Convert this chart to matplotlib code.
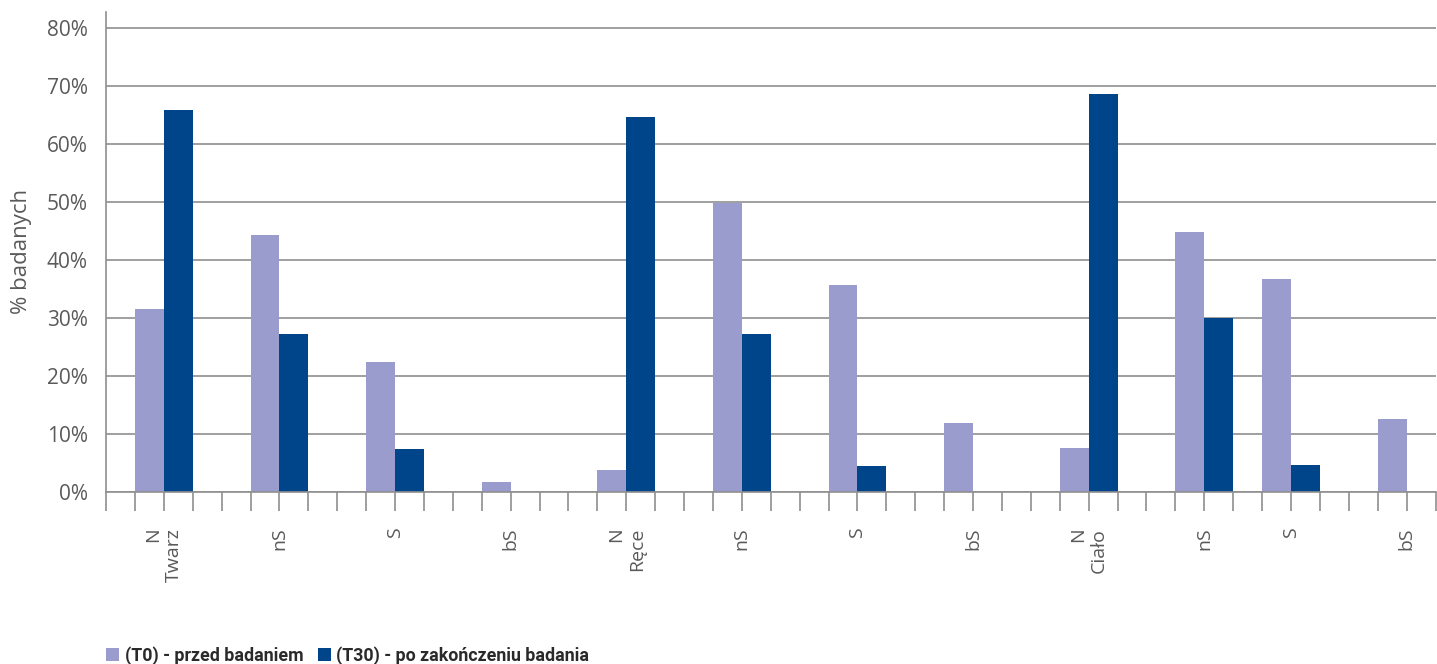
import numpy as np
import matplotlib
matplotlib.use("Agg")
import matplotlib.pyplot as plt
from matplotlib.patches import Patch
from matplotlib.ticker import PercentFormatter, MultipleLocator

# data (fraction of subjects)
category_labels = ["N\nTwarz", "nS", "S", "bS",
                   "N\nRęce", "nS", "S", "bS",
                   "N\nCiało", "nS", "S", "bS"]
values_t0 = [0.315, 0.443, 0.224, 0.017,
             0.037, 0.498, 0.357, 0.119,
             0.075, 0.448, 0.367, 0.125]
values_t30 = [0.659, 0.272, 0.074, 0.0,
              0.646, 0.272, 0.044, 0.0,
              0.686, 0.299, 0.046, 0.0]
legend_labels = ["(T0) - przed badaniem", "(T30) - po zakończeniu badania"]

# first slot of every group on the category axis (one slot = one bar)
group_start = np.array([1, 5, 9, 13, 17, 21, 25, 29, 33, 37, 40, 44])
number_of_slots = 46

color_t0 = "#999ccc"
color_t30 = "#00448a"
grid_color = "#8f8f8f"
text_color = "#5a5a5a"
char_size = 13

plt.rcParams["font.family"] = ["Open Sans", "DejaVu Sans"]

fig = plt.figure(figsize = (14.37, 6.64), dpi = 100)
ax = fig.add_axes([106 / 1437, 1 - 491.7 / 664, 1329.5 / 1437, (491.7 - 12) / 664])

# bars, one slot wide, T0 left and T30 right inside each group
ax.bar(group_start + 0.5, values_t0, width = 1.0, color = color_t0, zorder = 2)
ax.bar(group_start + 1.5, values_t30, width = 1.0, color = color_t30, zorder = 2)

ax.set_xlim(0, number_of_slots)
ax.set_ylim(0, 0.8277)

# y axis
ax.yaxis.set_major_locator(MultipleLocator(0.1))
ax.yaxis.set_major_formatter(PercentFormatter(1.0, decimals = 0))
ax.yaxis.grid(True, color = grid_color, linewidth = 1.2, zorder = 0)
ax.tick_params(axis = "y", length = 0, labelsize = char_size + 2, labelcolor = text_color, pad = 13)
ax.set_ylabel("% badanych", fontsize = char_size + 3, color = text_color, labelpad = 11)

# x axis: a tick mark on every slot boundary, labels in between bars
ax.xaxis.remove_overlapping_locs = False
ax.set_xticks(np.arange(0, number_of_slots + 1))
ax.set_xticklabels([])
ax.tick_params(axis = "x", which = "major", length = 14, width = 1.2, color = grid_color)
ax.set_xticks(group_start + 1, minor = True)
ax.set_xticklabels(category_labels, minor = True, rotation = 90, fontsize = char_size + 1,
                   color = text_color, va = "top", ha = "center", multialignment = "right")
ax.tick_params(axis = "x", which = "minor", length = 0, pad = 26)

for side in ["top", "right"]:
    ax.spines[side].set_visible(False)
ax.spines["left"].set_color(grid_color)
ax.spines["left"].set_linewidth(1.2)
ax.spines["bottom"].set_color(grid_color)
ax.spines["bottom"].set_linewidth(1.2)

# legend at the bottom left
handles = [Patch(facecolor = color_t0), Patch(facecolor = color_t30)]
fig.legend(handles, legend_labels, loc = "lower left", bbox_to_anchor = (90 / 1437, -0.025),
           ncol = 2, frameon = False, handlelength = 0.75, handleheight = 0.75,
           handletextpad = 0.3, columnspacing = 0.8,
           prop = {"family": ["Roboto", "DejaVu Sans"], "weight": "bold", "size": char_size - 0.2},
           labelcolor = "#2a2a2a")

fig.savefig("out.png", dpi = 100)
